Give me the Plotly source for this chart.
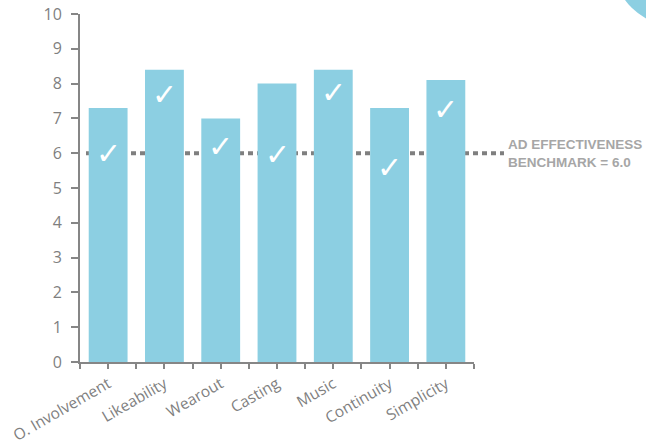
import plotly.graph_objects as go

categories = ["O. Involvement", "Likeability", "Wearout", "Casting", "Music", "Continuity", "Simplicity"]
scores = [7.3, 8.4, 7.0, 8.0, 8.4, 7.3, 8.1]
check_y = [6.0, 7.7, 6.2, 5.95, 7.75, 5.6, 7.25]
benchmark = 6.0
y_ticks = list(range(0, 11))

x_idx = list(range(len(categories)))

W, H = 646, 446
L, T = 80, 14
R = W - 474
B = H - 362
pw, ph = W - L - R, H - T - B

def px_x(p):
    return (p - L) / pw

def px_y(p):
    return (H - B - p) / ph

fig = go.Figure()
fig.add_trace(go.Bar(
    x=x_idx, y=scores, width=0.69,
    marker=dict(color="#8ccfe2", line=dict(width=0)),
    hoverinfo="skip", showlegend=False,
))

# benchmark dotted line (extends to label)
fig.add_shape(type="line", xref="paper", yref="y",
              x0=px_x(86), x1=px_x(504), y0=benchmark, y1=benchmark,
              line=dict(color="#7f7f7f", width=4, dash="5px,4px"), layer="below")

# check marks
for xi, cy in zip(x_idx, check_y):
    fig.add_annotation(x=xi, y=cy, xref="x", yref="y", text="✓", showarrow=False,
                       font=dict(family="DejaVu Sans", size=30, color="white"),
                       xanchor="center", yanchor="middle")

fig.add_annotation(xref="paper", yref="y", x=px_x(506), y=benchmark,
                   text="<b>AD EFFECTIVENESS<br>BENCHMARK = %.1f</b>" % benchmark,
                   showarrow=False, xanchor="left", yanchor="middle", align="left",
                   font=dict(family="Liberation Sans", size=13.5, color="#a6a6a6"))

# decorative circle at top right
fig.add_shape(type="circle", xref="paper", yref="paper",
              x0=px_x(613), x1=px_x(739), y0=px_y(26), y1=px_y(-100),
              fillcolor="#8ccfe2", line=dict(width=0), layer="above")

fig.update_layout(
    width=W, height=H,
    margin=dict(l=L, r=R, t=T, b=B, autoexpand=False),
    paper_bgcolor="white", plot_bgcolor="white",
    bargap=0.3,
    font=dict(family="Open Sans", color="#7f7f7f"),
    xaxis=dict(
        automargin=False,
        range=[-0.5, len(categories) - 0.5],
        tickvals=x_idx, ticktext=categories, tickangle=-30,
        showline=True, linecolor="#868686", linewidth=2,
        ticks="outside", ticklen=5, tickcolor="#868686", tickwidth=1.5,
        minor=dict(ticks="outside", tick0=-0.5, dtick=1, ticklen=5, tickcolor="#868686", tickwidth=1.5),
        showgrid=False, zeroline=False,
        tickfont=dict(family="Open Sans", size=15.5, color="#7f7f7f"),
        ticklabeloverflow="allow",
    ),
    yaxis=dict(
        automargin=False,
        range=[0, 10], tickvals=y_ticks,
        showline=True, linecolor="#868686", linewidth=2,
        ticks="outside", ticklen=7, tickcolor="#868686", tickwidth=1.5,
        showgrid=False, zeroline=False,
        tickfont=dict(family="Open Sans", size=16, color="#7f7f7f"),
        ticklabelstandoff=6,
        ticklabeloverflow="allow",
    ),
)

fig.write_html("out.html", config={"displayModeBar": False},
               post_script="document.body.style.margin='0';")
